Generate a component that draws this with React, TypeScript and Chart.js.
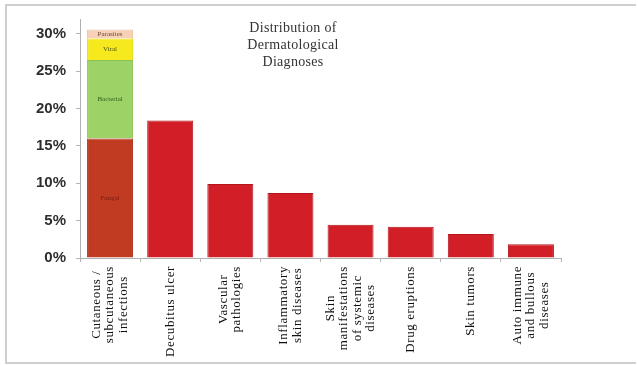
import React, { useEffect, useRef } from "react";
import { Chart, registerables } from "chart.js";

Chart.register(...registerables);

// Category labels (one entry per line of the rotated label)
const categories: string[][] = [
  ["Cutaneous /", "subcutaneous", "infections"],
  ["Decubitus ulcer"],
  ["Vascular", "pathologies"],
  ["Inflammatory", "skin diseases"],
  ["Skin", "manifestations", "of systemic", "diseases"],
  ["Drug eruptions"],
  ["Skin tumors"],
  ["Auto immune", "and bullous", "diseases"],
];

// Share of diagnoses, in percent
const fungal = [16.0, null, null, null, null, null, null, null];
const bacterial = [10.5, null, null, null, null, null, null, null];
const viral = [2.9, null, null, null, null, null, null, null];
const parasites = [1.2, null, null, null, null, null, null, null];
const diagnoses = [null, 18.4, 9.9, 8.7, 4.45, 4.2, 3.2, 1.85];

const yTicks = [0, 5, 10, 15, 20, 25, 30];
const titleLines = ["Distribution of", "Dermatological", "Diagnoses"];

const LABEL_LINE_H = 13.5;

// Rotated, centred multi-line category labels under the x axis
const categoryLabels = {
  id: "categoryLabels",
  afterDraw(chart: any) {
    const xs = chart.scales.x;
    const ctx = chart.ctx as CanvasRenderingContext2D;
    const top = chart.chartArea.bottom + 8;
    ctx.save();
    ctx.font = '13px "Liberation Serif"';
    (ctx as any).letterSpacing = "0.6px";
    ctx.fillStyle = "#111";
    ctx.textAlign = "center";
    ctx.textBaseline = "middle";
    categories.forEach((lines, i) => {
      const cx = xs.getPixelForValue(i);
      const w = Math.max(...lines.map((l) => ctx.measureText(l).width));
      ctx.save();
      ctx.translate(cx, top + w / 2);
      ctx.rotate(-Math.PI / 2);
      lines.forEach((l, j) => {
        ctx.fillText(l, 0, (j - (lines.length - 1) / 2) * LABEL_LINE_H);
      });
      ctx.restore();
    });
    ctx.restore();
  },
};

// Small names written inside the stacked segments
const segmentLabels = {
  id: "segmentLabels",
  afterDatasetsDraw(chart: any) {
    const ctx = chart.ctx as CanvasRenderingContext2D;
    const colors = ["#7a1c12", "#2f5e1c", "#4f5410", "#6a4a3c"];
    ctx.save();
    ctx.font = '7px "Liberation Serif"';
    ctx.textAlign = "center";
    ctx.textBaseline = "middle";
    for (let d = 0; d < 4; d++) {
      const el = chart.getDatasetMeta(d).data[0] as any;
      if (!el) continue;
      ctx.fillStyle = colors[d];
      ctx.fillText(chart.data.datasets[d].label, el.x, (el.y + el.base) / 2);
    }
    ctx.restore();
  },
};

const frameLine = (s: React.CSSProperties): React.CSSProperties => ({
  position: "absolute",
  background: "#cfcfcf",
  ...s,
});

export default function App() {
  const canvasRef = useRef<HTMLCanvasElement | null>(null);

  useEffect(() => {
    if (!canvasRef.current) return;
    const chart = new Chart(canvasRef.current, {
      type: "bar",
      data: {
        labels: categories.map((c) => c.join(" ")),
        datasets: [
          { label: "Fungal", data: fungal, backgroundColor: "#c13b23", borderColor: "#a9301c", borderWidth: 1 },
          { label: "Bacterial", data: bacterial, backgroundColor: "#9dd366", borderColor: "#8cc258", borderWidth: 1 },
          { label: "Viral", data: viral, backgroundColor: "#f6ea1f", borderColor: "#e6da18", borderWidth: 1 },
          { label: "Parasites", data: parasites, backgroundColor: "#f8d0b6", borderColor: "#ecc0a6", borderWidth: 1 },
          { label: "Diagnoses", data: diagnoses, backgroundColor: "#d21f27", borderColor: "#b3171e", borderWidth: 1 },
        ] as any,
      },
      options: {
        animation: false,
        responsive: false,
        devicePixelRatio: 1,
        layout: { padding: { top: 15, right: 77, left: 0, bottom: 0 } },
        plugins: { legend: { display: false }, tooltip: { enabled: false }, title: { display: false } },
        datasets: { bar: { barPercentage: 0.765, categoryPercentage: 1, skipNull: true } } as any,
        scales: {
          x: {
            stacked: true,
            grid: { drawOnChartArea: false, drawTicks: true, tickLength: 4, color: "#b5b5b5", offset: true },
            border: { color: "#b0b0b0" },
            ticks: { display: false },
            afterFit: (s: any) => {
              s.height = 107;
            },
          },
          y: {
            stacked: true,
            min: 0,
            max: 32,
            afterBuildTicks: (s: any) => {
              s.ticks = yTicks.map((v) => ({ value: v }));
            },
            grid: { drawOnChartArea: false, drawTicks: true, tickLength: 4, color: "#b5b5b5" },
            border: { color: "#b0b0b0" },
            ticks: {
              color: "#2e2e2e",
              padding: 10,
              font: { family: '"Liberation Sans"', size: 15, weight: "bold" },
              callback: (v: any) => `${v}%`,
            },
            afterFit: (s: any) => {
              s.width = 80;
            },
          },
        },
      } as any,
      plugins: [segmentLabels, categoryLabels],
    });
    return () => chart.destroy();
  }, []);

  return (
    <div style={{ position: "fixed", left: 0, top: 0, width: 638, height: 365, background: "#fff", overflow: "hidden" }}>
      <div style={frameLine({ left: 5, top: 4, width: 2, height: 360 })} />
      <div style={frameLine({ left: 5, top: 4, width: 631, height: 2 })} />
      <div style={frameLine({ left: 5, top: 362, width: 631, height: 2 })} />
      <canvas ref={canvasRef} width={638} height={365} style={{ position: "absolute", left: 0, top: 0, display: "block" }} />
      <div
        style={{
          position: "absolute",
          left: 193,
          top: 19,
          width: 200,
          textAlign: "center",
          font: '14px "Liberation Serif"',
          lineHeight: "17px",
          letterSpacing: "0.3px",
          color: "#333",
        }}
      >
        {titleLines.map((t) => (
          <div key={t}>{t}</div>
        ))}
      </div>
    </div>
  );
}
